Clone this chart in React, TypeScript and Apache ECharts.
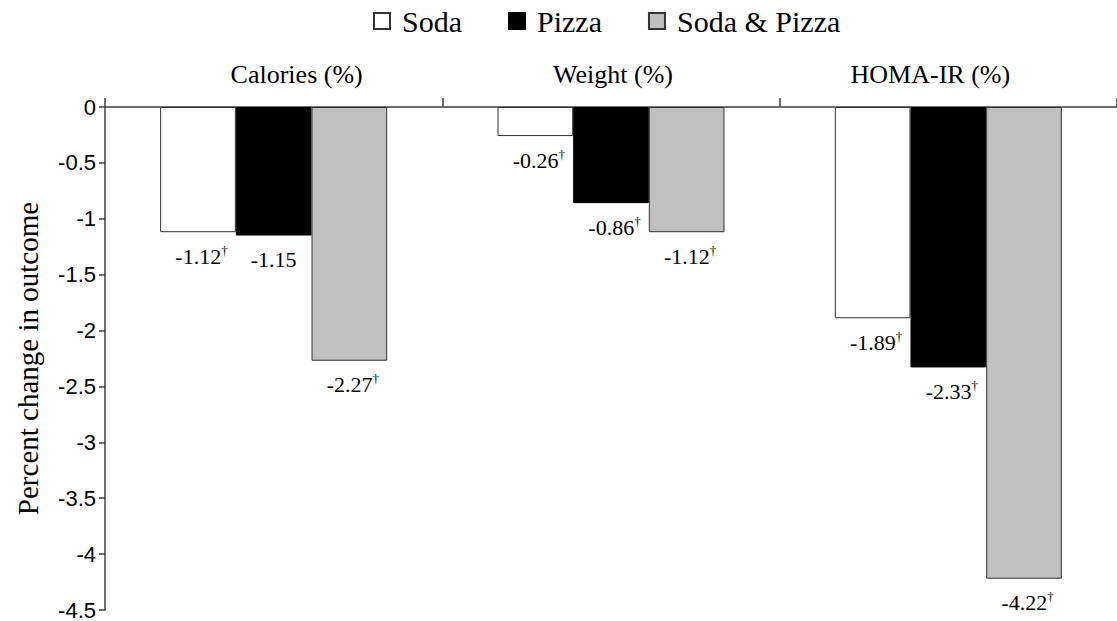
import React, { useEffect, useRef } from "react";
import * as echarts from "echarts";

const categories = ["Calories (%)", "Weight (%)", "HOMA-IR (%)"];
const sodaValues = [-1.12, -0.26, -1.89];
const pizzaValues = [-1.15, -0.86, -2.33];
const bothValues = [-2.27, -1.12, -4.22];
const sodaDagger = [true, true, true];
const pizzaDagger = [false, true, true];
const bothDagger = [true, true, true];
const seriesNames = ["Soda", "Pizza", "Soda & Pizza"];

const SERIF = "Liberation Serif";
const SANS = "Liberation Sans";

function makeData(values: number[], daggers: boolean[]) {
  return values.map((v, i) => ({ value: v, dagger: daggers[i] }));
}

function labelCfg() {
  return {
    show: true,
    position: "bottom",
    distance: 12,
    formatter: (p: any) => {
      const txt = p.value.toFixed(2);
      return p.data.dagger ? `{n|${txt}}{d|†}` : `{m|${txt}}`;
    },
    rich: {
      n: { fontFamily: SERIF, fontSize: 22, color: "#000", padding: [0, 0, 0, 7], lineHeight: 24 },
      m: { fontFamily: SERIF, fontSize: 22, color: "#000", lineHeight: 24 },
      d: { fontFamily: SERIF, fontSize: 13, color: "#000", padding: [0, 0, 12, 0], lineHeight: 24 },
    },
  };
}

const catStyle = { fontFamily: SERIF, fontSize: 26, color: "#000" };

export default function App() {
  const ref = useRef<HTMLDivElement>(null);
  useEffect(() => {
    document.body.style.margin = "0";
    const chart = echarts.init(ref.current!, null, { renderer: "svg" });
    const border = { borderColor: "#333333", borderWidth: 1 };
    chart.setOption({
      animation: false,
      backgroundColor: "#ffffff",
      textStyle: { fontFamily: SERIF },
      legend: {
        top: 1,
        left: 368,
        itemWidth: 16,
        itemHeight: 16,
        itemGap: 46,
        icon: "rect",
        textStyle: { fontFamily: SERIF, fontSize: 30, color: "#000", padding: [0, 0, 0, 7] },
        data: seriesNames,
      },
      grid: { left: 105, right: -5, top: 107, bottom: 10, containLabel: false },
      xAxis: {
        type: "category",
        position: "top",
        data: categories,
        axisLine: { show: true, lineStyle: { color: "#404040", width: 1.5 } },
        axisTick: { show: true, length: 9, lineStyle: { color: "#404040", width: 1.5 } },
        axisLabel: {
          margin: 20,
          ...catStyle,
          formatter: (v: string, i: number) => `{c${i}|${v}}`,
          rich: {
            c0: { ...catStyle, padding: [0, 0, 0, 46] },
            c1: { ...catStyle, padding: [0, 0, 0, 4] },
            c2: { ...catStyle, padding: [0, 36, 0, 0] },
          },
        },
        splitLine: { show: false },
      },
      yAxis: {
        type: "value",
        min: -4.5,
        max: 0,
        interval: 0.5,
        name: "Percent change in outcome",
        nameLocation: "middle",
        nameGap: 63,
        nameTextStyle: { fontFamily: SERIF, fontSize: 29, color: "#000" },
        axisLine: { show: true, lineStyle: { color: "#404040", width: 1.5 } },
        axisTick: { show: true, length: 6, lineStyle: { color: "#404040", width: 1.5 } },
        axisLabel: { margin: 9, fontFamily: SANS, fontSize: 22, color: "#000" },
        splitLine: { show: false },
      },
      series: [
        {
          name: seriesNames[0],
          type: "bar",
          data: makeData(sodaValues, sodaDagger),
          barGap: "0%",
          barCategoryGap: "32.7%",
          itemStyle: { color: "#ffffff", ...border },
          label: labelCfg(),
        },
        {
          name: seriesNames[1],
          type: "bar",
          data: makeData(pizzaValues, pizzaDagger),
          barGap: "0%",
          barCategoryGap: "32.7%",
          itemStyle: { color: "#000000", borderColor: "#000", borderWidth: 1 },
          label: labelCfg(),
        },
        {
          name: seriesNames[2],
          type: "bar",
          data: makeData(bothValues, bothDagger),
          barGap: "0%",
          barCategoryGap: "32.7%",
          itemStyle: { color: "#c0c0c0", ...border },
          label: labelCfg(),
        },
      ],
    });
    return () => chart.dispose();
  }, []);
  return (
    <div
      ref={ref}
      style={{ position: "absolute", left: 0, top: 0, width: 1117, height: 621 }}
    />
  );
}
